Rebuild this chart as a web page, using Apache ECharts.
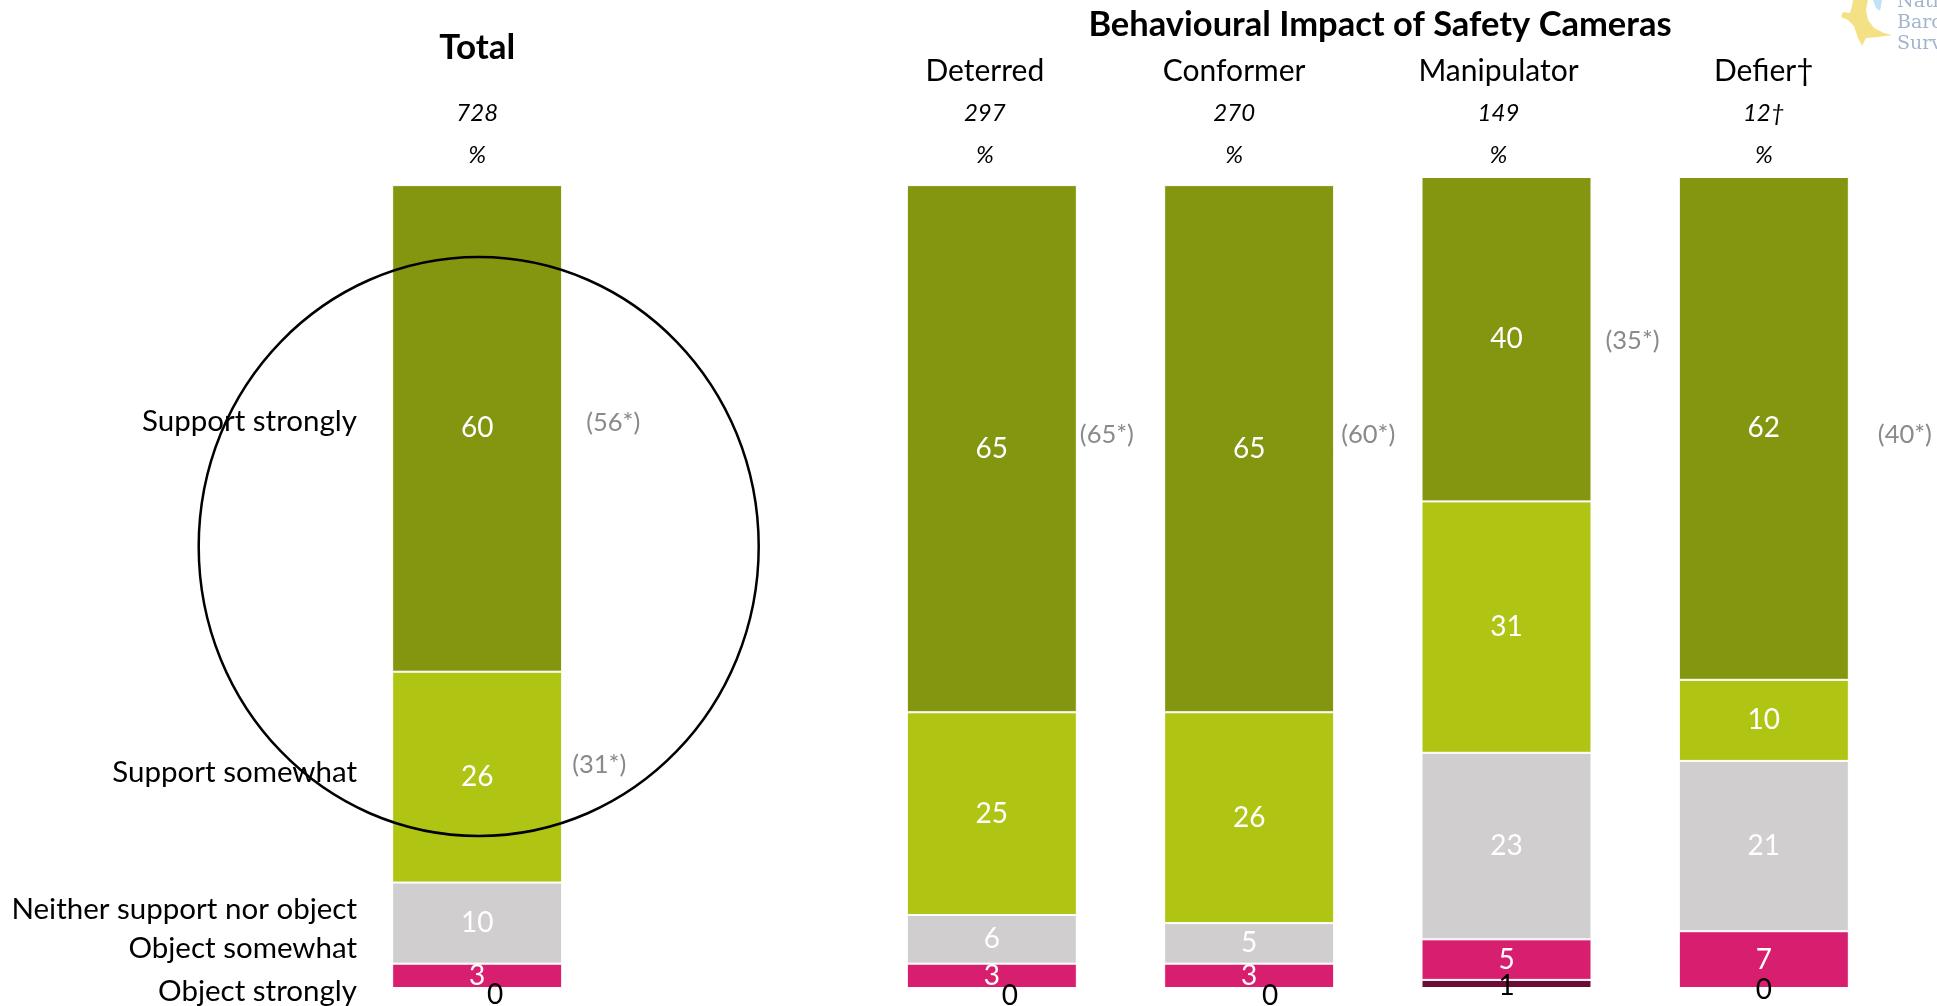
<!DOCTYPE html>
<html>
<head>
<meta charset="utf-8">
<title>Behavioural Impact of Safety Cameras</title>
<script src="https://cdn.jsdelivr.net/npm/echarts@6/dist/echarts.min.js"></script>
<style>
  html, body { margin: 0; padding: 0; background: #ffffff; }
  #chart { width: 1937px; height: 1006px; }
</style>
</head>
<body>
<div id="chart"></div>
<script>
// Groups along the top: overall sample, a spacer slot, then the four behaviour types
const groups = ['Total', '', 'Deterred', 'Conformer', 'Manipulator', 'Defier†'];
const bases = ['728', '', '297', '270', '149', '12†'];

// Response categories, bottom of the stack first
const responses = ['Object strongly', 'Object somewhat', 'Neither support nor object', 'Support somewhat', 'Support strongly'];

// Percentages per group (null = spacer slot)
const objectStrongly = [0, null, 0, 0, 1, 0];
const objectSomewhat = [3, null, 3, 3, 5, 7];
const neither = [10, null, 6, 5, 23, 21];
const supportSomewhat = [26, null, 25, 26, 31, 10];
const supportStrongly = [60, null, 65, 65, 40, 62];

// Earlier-wave comparison figures shown in brackets
const prevSupportStrongly = [56, null, 65, 60, 35, 40];
const prevSupportSomewhat = [31, null, null, null, null, null];

const FONT = 'Lato, "Open Sans", sans-serif';
const colors = ['#6b0d35', '#d81e6e', '#d0cecf', '#b0c414', '#84950f'];
const stackData = [objectStrongly, objectSomewhat, neither, supportSomewhat, supportStrongly];

// small nudges for the zero labels that sit under the bars
const zeroLabelNudge = [[18, 7], null, [18, 8], [21, 8], [0, 2], [0, 2]];
// leftward nudge (px) of each group heading relative to its bar
const headNudge = [0, 0, 7, 15, 8, 0];

const chart = echarts.init(document.getElementById('chart'), null, { renderer: 'canvas' });

const series = stackData.map((arr, k) => ({
  name: responses[k],
  type: 'bar',
  stack: 'all',
  barWidth: 170,
  animation: false,
  itemStyle: { color: colors[k], borderColor: '#ffffff', borderWidth: 1 },
  label: {
    show: true,
    position: 'inside',
    color: k === 0 ? '#000000' : '#ffffff',
    fontFamily: FONT,
    fontSize: 28,
    formatter: p => (p.value == null ? '' : String(p.value))
  },
  data: arr.map((v, i) => {
    if (v == null) return null;
    if (k === 0 && zeroLabelNudge[i]) return { value: v, label: { offset: zeroLabelNudge[i] } };
    return v;
  })
}));

// rich styles per heading so each can be nudged on its own
const rich = {};
groups.forEach((g, i) => {
  const pad = [0, headNudge[i] * 2, 0, 0];
  rich['h' + i] = i === 0
    ? { fontFamily: FONT, fontWeight: 'bold', fontSize: 35, lineHeight: 88, color: '#000', padding: pad }
    : { fontFamily: FONT, fontSize: 30, lineHeight: 42, color: '#000', padding: pad };
  rich['n' + i] = { fontFamily: FONT, fontStyle: 'italic', fontSize: 24, lineHeight: 42, color: '#000', padding: pad };
  rich['p' + i] = { fontFamily: FONT, fontStyle: 'italic', fontSize: 24, lineHeight: 42, color: '#000', padding: pad };
});

chart.setOption({
  animation: false,
  backgroundColor: '#ffffff',
  grid: { left: 348.5, right: 44.5, top: 177, bottom: 18, containLabel: false },
  xAxis: {
    type: 'category',
    position: 'top',
    data: groups,
    axisLine: { show: false },
    axisTick: { show: false },
    axisLabel: {
      interval: 0,
      margin: 1,
      formatter: (val, idx) => {
        if (!val) return '';
        return '{h' + idx + '|' + val + '}\n{n' + idx + '|' + bases[idx] + '}\n{p' + idx + '|%}';
      },
      rich: rich
    }
  },
  yAxis: { type: 'value', min: 0, max: 100, show: false },
  series: series
});

// Helpers for placing annotation text relative to stacked segments
function segmentMid(k, i) {
  let base = 0;
  for (let j = 0; j < k; j++) base += stackData[j][i] || 0;
  return base + (stackData[k][i] || 0) / 2;
}
function px(i, v) { return chart.convertToPixel({ gridIndex: 0 }, [i, v]); }
const halfBar = 85;

const graphics = [];

// Response names to the left of the Total bar
const rowLabelNudge = [3, -27, -14, -5, -7];
responses.forEach((name, k) => {
  const p = px(0, segmentMid(k, 0));
  graphics.push({
    type: 'text', z: 10,
    style: {
      text: name, x: 357, y: p[1] + rowLabelNudge[k],
      textAlign: 'right', textVerticalAlign: 'middle',
      fontFamily: FONT, fontSize: 29.5, fill: '#000'
    }
  });
});

// Bracketed earlier-wave figures beside the bars
const prevSets = [
  { arr: prevSupportStrongly, k: 4, gap: [24, null, 3, 7, 14, 29], dy: [-6, null, -14, -14, 2, 6] },
  { arr: prevSupportSomewhat, k: 3, gap: [10, null, null, null, null, null], dy: [-12, null, null, null, null, null] }
];
prevSets.forEach(set => {
  set.arr.forEach((v, i) => {
    if (v == null) return;
    const p = px(i, segmentMid(set.k, i));
    graphics.push({
      type: 'text', z: 10,
      style: {
        text: '(' + v + '*)', x: p[0] + halfBar + set.gap[i], y: p[1] + set.dy[i],
        textAlign: 'left', textVerticalAlign: 'middle',
        fontFamily: FONT, fontSize: 25.5, fill: '#8a8a8a'
      }
    });
  });
});

// Heading over the four behaviour groups
graphics.push({
  type: 'text', z: 10,
  style: {
    text: 'Behavioural Impact of Safety Cameras', x: 1380, y: 25,
    textAlign: 'center', textVerticalAlign: 'middle',
    fontFamily: FONT, fontWeight: 'bold', fontSize: 34.5, fill: '#000'
  }
});

// Ring drawn around the Total bar
graphics.push({
  type: 'ellipse', z: 20,
  shape: { cx: 478.7, cy: 546.5, rx: 280, ry: 289.5 },
  style: { fill: 'none', stroke: '#000', lineWidth: 2.5 }
});

// Survey logo in the top-right corner
graphics.push({
  type: 'polygon', z: 5,
  shape: { points: [[1853, 0], [1868, 0], [1866, 10], [1868, 20], [1874, 28], [1884, 33], [1892, 35], [1878, 37], [1866, 38], [1862, 46], [1858, 38], [1854, 26], [1848, 20], [1841, 17], [1843, 12], [1850, 13], [1852, 6]] },
  style: { fill: '#f5e185' }
});
graphics.push({
  type: 'polygon', z: 5,
  shape: { points: [[1873, 0], [1882, 0], [1880, 11], [1876, 8]] },
  style: { fill: '#bfe2f4' }
});
['National', 'Barometer', 'Survey'].forEach((w, j) => {
  graphics.push({
    type: 'text', z: 5,
    style: {
      text: w, x: 1897, y: 12 + j * 21,
      textAlign: 'left', textVerticalAlign: 'bottom',
      fontFamily: '"DejaVu Serif", serif', fontSize: 19, fill: '#a3b5cc'
    }
  });
});

chart.setOption({ graphic: graphics });
</script>
</body>
</html>
